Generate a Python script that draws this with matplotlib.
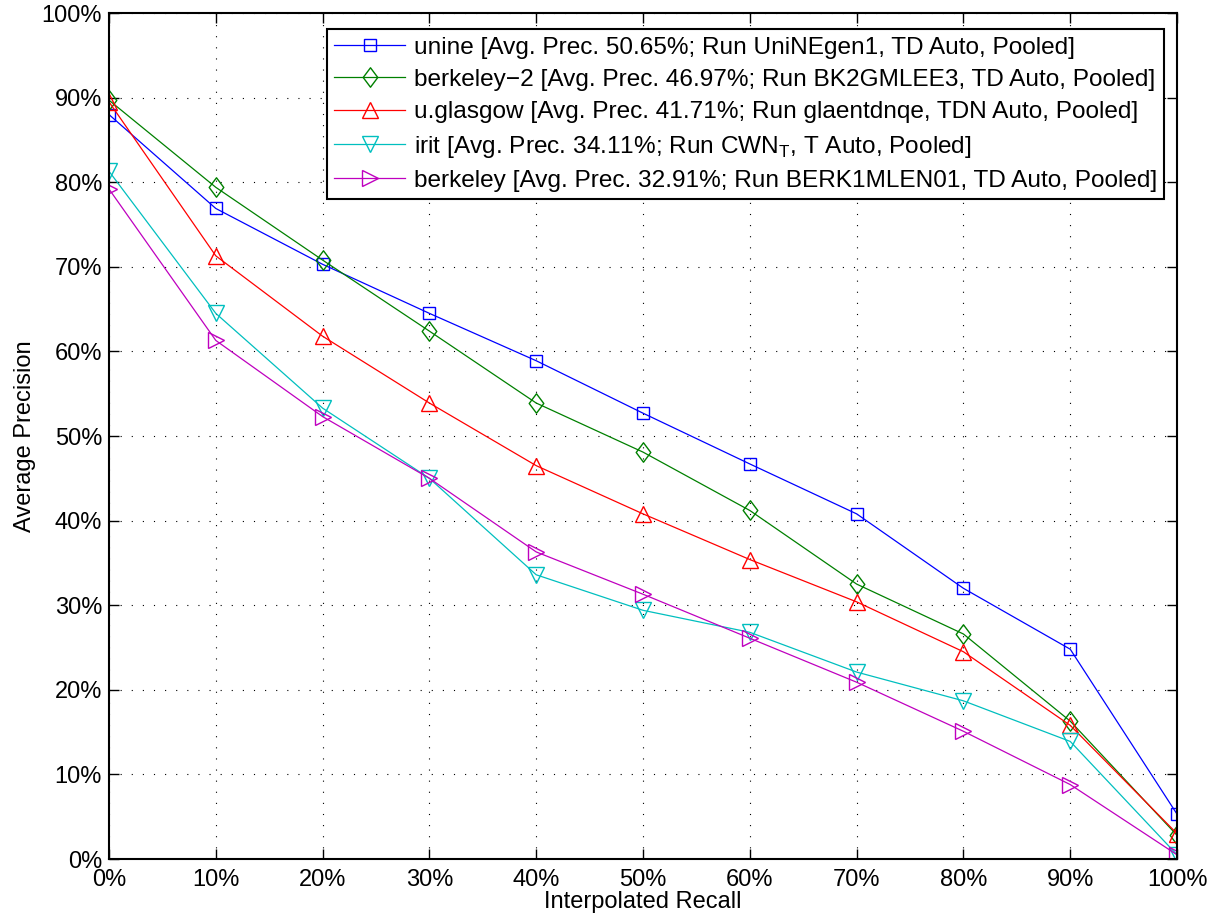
import matplotlib
matplotlib.use("Agg")
import matplotlib.pyplot as plt
from matplotlib.path import Path
import numpy as np

plt.rcParams['font.family'] = ['Liberation Sans', 'DejaVu Sans']
plt.rcParams['mathtext.fontset'] = 'custom'
plt.rcParams['mathtext.rm'] = 'Liberation Sans'

recall = [0, 10, 20, 30, 40, 50, 60, 70, 80, 90, 100]

unine = [88.0, 76.9, 70.3, 64.5, 58.9, 52.7, 46.7, 40.8, 32.0, 24.8, 5.3]
berkeley2 = [89.7, 79.4, 70.8, 62.4, 53.9, 48.1, 41.2, 32.5, 26.6, 16.3, 2.8]
uglasgow = [89.5, 71.3, 61.8, 53.9, 46.5, 40.8, 35.4, 30.4, 24.5, 15.8, 3.0]
irit = [81.3, 64.5, 53.3, 45.0, 33.6, 29.4, 26.8, 22.1, 18.7, 13.9, 0.5]
berkeley = [79.2, 61.3, 52.3, 45.0, 36.3, 31.3, 26.1, 20.9, 15.1, 8.8, 0.5]

labels = [
    "unine [Avg. Prec. 50.65%; Run UniNEgen1, TD Auto, Pooled]",
    "berkeley\u22122 [Avg. Prec. 46.97%; Run BK2GMLEE3, TD Auto, Pooled]",
    "u.glasgow [Avg. Prec. 41.71%; Run glaentdnqe, TDN Auto, Pooled]",
    "irit [Avg. Prec. 34.11%; Run CWN$_\\mathrm{T}$, T Auto, Pooled]",
    "berkeley [Avg. Prec. 32.91%; Run BERK1MLEN01, TD Auto, Pooled]",
]
series = [unine, berkeley2, uglasgow, irit, berkeley]
colors = ['#0000ff', '#008000', '#ff0000', '#00bfbf', '#bf00bf']
diamond = Path([(0, 1), (0.75, 0), (0, -1), (-0.75, 0), (0, 1)],
               [Path.MOVETO, Path.LINETO, Path.LINETO, Path.LINETO, Path.CLOSEPOLY])
markers = ['s', diamond, '^', 'v', '>']
msizes = [8.8, 14, 12, 12, 12]

fig = plt.figure(figsize=(12.19, 9.24), dpi=100)
ax = fig.add_axes([0.0894, 0.0703, 0.8762, 0.9156])

for y, lab, c, m, ms in zip(series, labels, colors, markers, msizes):
    ax.plot(recall, y, color=c, marker=m, markersize=ms, markerfacecolor='none',
            markeredgecolor=c, markeredgewidth=1.0, linewidth=0.9, label=lab)

FS = 17
ax.set_xlim(0, 100)
ax.set_ylim(0, 100)
ticks = np.arange(0, 101, 10)
ax.set_xticks(ticks)
ax.set_yticks(ticks)
ax.set_xticklabels([f"{t}%" for t in ticks], fontsize=FS)
ax.set_yticklabels([f"{t}%" for t in ticks], fontsize=FS)
ax.tick_params(direction='in', length=7, width=1, top=True, right=True)
ax.tick_params(axis='y', pad=5)
ax.tick_params(axis='x', pad=7)
for s in ax.spines.values():
    s.set_linewidth(1.5)
ax.grid(True, color='black', linestyle=(0, (1, 9)), linewidth=0.8)
ax.set_xlabel("Interpolated Recall", fontsize=FS, labelpad=0)
ax.set_ylabel("Average Precision", fontsize=FS, labelpad=4)

leg = ax.legend(loc='upper right', bbox_to_anchor=(0.988, 0.981), fontsize=17.6,
                frameon=True, fancybox=False, framealpha=1, edgecolor='black',
                borderpad=0.3, handlelength=2.9, labelspacing=0.42, handletextpad=0.35,
                borderaxespad=0)
leg.get_frame().set_linewidth(1.5)

fig.savefig("out.png", dpi=100)
